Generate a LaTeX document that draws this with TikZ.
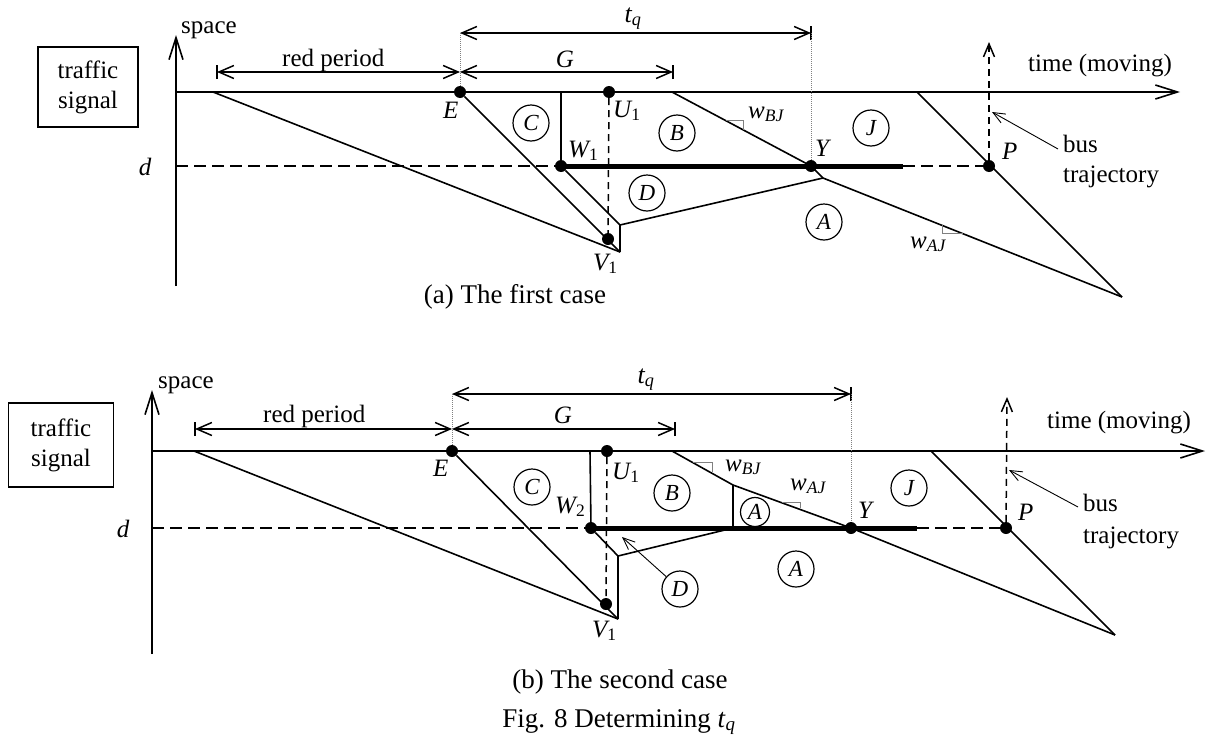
\documentclass[tikz,border=0pt]{standalone}
\usepackage{fontspec}
\setmainfont{Liberation Serif}
\usetikzlibrary{arrows.meta}
\begin{document}
\begin{tikzpicture}[x=1pt,y=-1pt,
  every node/.style={font=\fontsize{25}{30}\selectfont, inner sep=0pt},
  ln/.style={line width=1.6pt, line join=round},
  thk/.style={line width=5pt},
  ax/.style={line width=1.6pt, -{Straight Barb[length=22pt,width=14pt]}},
  dimboth/.style={line width=1.5pt, {Straight Barb[length=15pt,width=13pt]}-{Straight Barb[length=15pt,width=13pt]}},
  barline/.style={line width=1.5pt},
  dsh/.style={line width=1.5pt, dash pattern=on 12pt off 6pt},
  dshs/.style={line width=1.5pt, dash pattern=on 7pt off 5pt},
  guide/.style={gray, line width=0.8pt, dash pattern=on 1pt off 1pt},
  slopemk/.style={draw=gray, line width=1pt},
  ptr/.style={line width=0.9pt, -{Straight Barb[length=12pt,width=10pt]}},
  busar/.style={line width=1.5pt, dash pattern=on 7pt off 5pt, -{Straight Barb[length=13pt,width=11pt]}},
  dot/.style={circle, fill, minimum size=12pt, inner sep=0pt},
  lab/.style={font=\fontsize{25}{30}\selectfont\itshape, anchor=base west},
  labc/.style={font=\fontsize{25}{30}\selectfont\itshape, anchor=base},
  tql/.style={font=\fontsize{26}{30}\selectfont\itshape, anchor=base},
  reg/.style={draw, circle, line width=1.2pt, minimum size=36pt, inner sep=0pt, font=\fontsize{23}{26}\selectfont\itshape},
  regs/.style={reg, minimum size=29pt},
  txt/.style={anchor=base west},
  capt/.style={font=\fontsize{27}{32}\selectfont},
  sigbox/.style={draw, line width=1.5pt, align=center}
]
\useasboundingbox (0,0) rectangle (1207,739);

% ================= (a) =================
\node[sigbox, minimum width=100pt, minimum height=80pt] (aSig) at (88,87) {traffic\\signal};
\coordinate (aO) at (176,92);
\coordinate (aYb) at (176,286);
\coordinate (aYt) at (176,35);
\coordinate (aXt) at (1180,92);
\draw[ax] (aYb) -- (aYt);
\draw[ax] (aO) -- (aXt);
\node[txt] (aSpace) at (181,33) {space};
\node[txt] (aTime) at (1028,71) {time (moving)};
\node[labc] (aD) at (145,175) {d};

% points
\node[dot] (aE) at (460,92) {};
\node[dot] (aU) at (609,92) {};
\node[dot] (aV) at (608,239) {};
\node[dot] (aW) at (561,166) {};
\node[dot] (aY) at (811,166) {};
\node[dot] (aP) at (989,166) {};
\node[lab] (aEl) at (443,118) {E};
\node[lab] (aUl) at (613,117) {U\textsubscript{\upshape 1}};
\node[lab] (aVl) at (593,270) {V\textsubscript{\upshape 1}};
\node[lab] (aWl) at (568,157) {W\textsubscript{\upshape 1}};
\node[lab] (aYl) at (815,156) {Y};
\node[lab] (aPl) at (1002,159) {P};

% dimension arrows
\coordinate (aRs) at (217,72);
\coordinate (aRe) at (460,72);
\coordinate (aGe) at (673,72);
\coordinate (aTs) at (460,33);
\coordinate (aTe) at (811,33);
\draw[dimboth] (aRs) -- (aRe);
\draw[dimboth] (aRe) -- (aGe);
\draw[dimboth] (aTs) -- (aTe);
\draw[barline] ([yshift=-7pt]aRs) -- ([yshift=7pt]aRs);
\draw[barline] ([yshift=-7pt]aGe) -- ([yshift=7pt]aGe);
\draw[barline] ([yshift=-7pt]aTe) -- ([yshift=7pt]aTe);
\node[txt] (aRed) at (282,66) {red period};
\node[labc] (aG) at (565,67) {G};
\node[tql] (aTq) at (633,22) {t\textsubscript{q}};
\draw[guide] (aTs) -- (aE);
\draw[guide] (aTe) -- (aY);

% lines
\coordinate (aR0) at (213,92);
\coordinate (aK1) at (620,252);
\coordinate (aK2) at (620,225);
\coordinate (aK3) at (823,178);
\coordinate (aC0) at (561,92);
\coordinate (aB0) at (672,92);
\coordinate (aEnd) at (1122,297);
\coordinate (aJ0) at (917,92);
\draw[ln] (aR0) -- (aK1);
\draw[ln] (aE) -- (aK1);
\draw[ln] (aC0) -- (aW);
\draw[ln] (aW) -- (aK2) -- (aK1);
\draw[ln] (aK2) -- (aK3);
\draw[ln] (aB0) -- (aY.center) -- (aK3) -- (aEnd);
\draw[ln] (aJ0) -- (aEnd);
\draw[dshs] (aU) -- (aV);
\coordinate (aDl) at (176,166);
\coordinate (aTk) at (903,166);
\draw[dsh] (aDl) -- (aW);
\draw[thk] (aW.center) -- (aTk);
\draw[dsh] (aTk) -- (aP);

% bus
\coordinate (aBt) at (989,42);
\draw[busar] (aP) -- (aBt);
\node[txt] (aBus) at (1063,152) {bus};
\node[txt] (aTraj) at (1063,182) {trajectory};
\coordinate (aPs) at (1058,149);
\coordinate (aPe) at (992,112);
\draw[ptr] (aPs) -- (aPe);

% slope marks
\draw[slopemk] (726,120) -- (743,120) -- (743,130);
\node[lab] (aWbj) at (748,118) {w\textsubscript{\itshape BJ}};
\draw[slopemk] (942,225) -- (942,233) -- (963,233);
\node[lab] (aWaj) at (910,248) {w\textsubscript{\itshape AJ}};

% regions
\node[reg] (aCc) at (531,123) {C};
\node[reg] (aBc) at (677,133) {B};
\node[reg] (aDc) at (647,193) {D};
\node[reg] (aAc) at (824,222) {A};
\node[reg] (aJc) at (871,128) {J};

\node[capt] (aCap) at (515,297) {(a) The first case};

% ================= (b) =================
\node[sigbox, minimum width=105pt, minimum height=84pt] (bSig) at (61,445) {traffic\\signal};
\coordinate (bO) at (152,451);
\coordinate (bYb) at (152,654);
\coordinate (bYt) at (152,390);
\coordinate (bXt) at (1205,451);
\draw[ax] (bYb) -- (bYt);
\draw[ax] (bO) -- (bXt);
\node[txt] (bSpace) at (158,388) {space};
\node[txt] (bTime) at (1047,428) {time (moving)};
\node[labc] (bD) at (123,537) {d};

\node[dot] (bE) at (452,451) {};
\node[dot] (bU) at (607,451) {};
\node[dot] (bV) at (606,604) {};
\node[dot] (bW) at (591,528) {};
\node[dot] (bY) at (851,528) {};
\node[dot] (bP) at (1006,528) {};
\node[lab] (bEl) at (433,476) {E};
\node[lab] (bUl) at (612,479) {U\textsubscript{\upshape 1}};
\node[lab] (bVl) at (592,637) {V\textsubscript{\upshape 1}};
\node[lab] (bWl) at (555,513) {W\textsubscript{\upshape 2}};
\node[lab] (bYl) at (858,518) {Y};
\node[lab] (bPl) at (1018,520) {P};

\coordinate (bRs) at (195,429);
\coordinate (bRe) at (452,429);
\coordinate (bGe) at (675,429);
\coordinate (bTs) at (452,394);
\coordinate (bTe) at (851,394);
\draw[dimboth] (bRs) -- (bRe);
\draw[dimboth] (bRe) -- (bGe);
\draw[dimboth] (bTs) -- (bTe);
\draw[barline] ([yshift=-7pt]bRs) -- ([yshift=7pt]bRs);
\draw[barline] ([yshift=-7pt]bGe) -- ([yshift=7pt]bGe);
\draw[barline] ([yshift=-7pt]bTe) -- ([yshift=7pt]bTe);
\node[txt] (bRed) at (263,422) {red period};
\node[labc] (bG) at (563,423) {G};
\node[tql] (bTq) at (646,383) {t\textsubscript{q}};
\draw[guide] (bTs) -- (bE);
\draw[guide] (bTe) -- (bY);

\coordinate (bR0) at (194,451);
\coordinate (bK1) at (618,619);
\coordinate (bK2) at (618,556);
\coordinate (bK3) at (733,528);
\coordinate (bK4) at (733,485);
\coordinate (bC0) at (590,451);
\coordinate (bB0) at (672,451);
\coordinate (bEnd) at (1115,635);
\coordinate (bJ0) at (931,451);
\draw[ln] (bR0) -- (bK1);
\draw[ln] (bE) -- (bK1);
\draw[ln] (bC0) -- (bW);
\draw[ln] (bW) -- (bK2) -- (bK1);
\draw[ln] (bK2) -- (bK3);
\draw[ln] (bK4) -- (bK3);
\draw[ln] (bB0) -- (bK4) -- (bY.center) -- (bEnd);
\draw[ln] (bJ0) -- (bEnd);
\draw[dshs] (bU) -- (bV);
\coordinate (bDl) at (152,528);
\coordinate (bTk) at (917,528);
\draw[dsh] (bDl) -- (bW);
\draw[thk] (bW.center) -- (bTk);
\draw[dsh] (bTk) -- (bP);

\coordinate (bBt) at (1007,397);
\draw[busar] (bP) -- (bBt);
\node[txt] (bBus) at (1083,511) {bus};
\node[txt] (bTraj) at (1083,543) {trajectory};
\coordinate (bPs) at (1078,507);
\coordinate (bPe) at (1009,470);
\draw[ptr] (bPs) -- (bPe);

\draw[slopemk] (693,462) -- (712,462) -- (712,472);
\node[lab] (bWbj) at (725,471) {w\textsubscript{\itshape BJ}};
\draw[slopemk] (782,502) -- (800,502) -- (800,508);
\node[lab] (bWaj) at (790,490) {w\textsubscript{\itshape AJ}};

\node[reg] (bCc) at (532,487) {C};
\node[reg] (bBc) at (672,493) {B};
\node[regs] (bA1c) at (755,512) {A};
\node[reg] (bAc) at (796,569) {A};
\node[reg] (bDc) at (680,589) {D};
\node[reg] (bJc) at (909,488) {J};
\coordinate (bDp) at (622,537);
\draw[ptr] (bDc) -- (bDp);

\node[capt] (bCap) at (620,682) {(b) The second case};
\node[capt] (fCap) at (619,722) {Fig. 8 Determining \textit{t}\textsubscript{\itshape q}};
\end{tikzpicture}
\end{document}
